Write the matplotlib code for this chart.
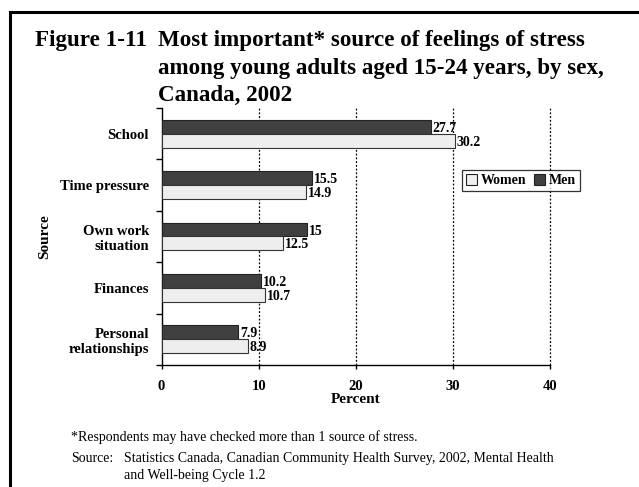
import matplotlib
matplotlib.use("Agg")
import matplotlib.pyplot as plt
from matplotlib.patches import Patch
from matplotlib.lines import Line2D
import numpy as np

categories = ["School", "Time pressure", "Own work\nsituation", "Finances", "Personal\nrelationships"]
men = [27.7, 15.5, 15, 10.2, 7.9]
women = [30.2, 14.9, 12.5, 10.7, 8.9]
men_labels = ["27.7", "15.5", "15", "10.2", "7.9"]
women_labels = ["30.2", "14.9", "12.5", "10.7", "8.9"]
xticks = [0, 10, 20, 30, 40]

plt.rcParams['font.family'] = ['Liberation Serif', 'DejaVu Serif']

W, H = 639, 487
fig = plt.figure(figsize=(W / 100, H / 100), dpi=100)
fig.patch.set_facecolor("white")

def fx(px):
    return px / W

def fy(py):
    return 1 - py / H

# outer frame (left and top lines)
fig.add_artist(Line2D([fx(10), fx(10)], [0, fy(12)], transform=fig.transFigure, color="black", lw=2.2))
fig.add_artist(Line2D([fx(10), 1], [fy(12), fy(12)], transform=fig.transFigure, color="black", lw=2.2))

ax = fig.add_axes([fx(161.5), fy(365), fx(550) - fx(161.5), fy(108) - fy(365)])

y = np.arange(len(categories))
h = 0.27
men_color = "#404040"
women_color = "#eeeeee"
ax.barh(y - h/2, men, height=h, color=men_color, edgecolor="#222222", lw=0.8, zorder=3)
ax.barh(y + h/2, women, height=h, color=women_color, edgecolor="#333333", lw=0.8, zorder=3)

for yi, v, s in zip(y, men, men_labels):
    ax.text(v + 0.2, yi - h/2 + 0.03, s, va="center", ha="left", fontsize=10, fontweight="bold", zorder=4)
for yi, v, s in zip(y, women, women_labels):
    ax.text(v + 0.2, yi + h/2 + 0.03, s, va="center", ha="left", fontsize=10, fontweight="bold", zorder=4)

ax.set_xlim(0, 40)
ax.set_ylim(len(categories) - 0.5, -0.5)
ax.set_xticks(xticks)
ax.set_xticklabels([str(t) for t in xticks], fontsize=10.5, fontweight="bold")
ax.set_yticks(y)
ax.set_yticklabels(categories, fontsize=10.5, fontweight="bold")
ax.tick_params(axis="y", which="major", length=0, pad=9)
ax.set_yticks(np.arange(-0.5, len(categories), 1.0), minor=True)
ax.tick_params(axis="y", which="minor", length=4, direction="out", width=1)
ax.tick_params(axis="x", which="major", length=3, direction="out", width=1, pad=8)

for t in xticks[1:]:
    ax.axvline(t, color="black", lw=0.9, ls=(0, (1.5, 1.5)), zorder=1, clip_on=False)

for side in ["top", "right"]:
    ax.spines[side].set_visible(False)
ax.spines["left"].set_linewidth(1)
ax.spines["bottom"].set_linewidth(1)

ax.set_xlabel("Percent", fontsize=11, fontweight="bold", labelpad=0)
ax.set_ylabel("Source", fontsize=11, fontweight="bold", labelpad=6)

handles = [Patch(facecolor=women_color, edgecolor="#222222", lw=0.8, label="Women"),
           Patch(facecolor=men_color, edgecolor="#222222", lw=0.8, label="Men")]
leg = ax.legend(handles=handles, loc="center", bbox_to_anchor=(fx(521), fy(180.5)),
                bbox_transform=fig.transFigure, ncol=2, frameon=True, fancybox=False,
                edgecolor="black", prop={"weight": "bold", "size": 10},
                handlelength=0.8, handleheight=0.8, handletextpad=0.3, columnspacing=0.5,
                borderpad=0.3, borderaxespad=0)
leg.get_frame().set_linewidth(0.9)

# title
tfs = 16.6
fig.text(fx(35), fy(46), "Figure 1-11", fontsize=tfs, fontweight="bold", va="baseline", ha="left")
fig.text(fx(158), fy(46), "Most important* source of feelings of stress", fontsize=tfs, fontweight="bold", va="baseline", ha="left")
fig.text(fx(158), fy(74), "among young adults aged 15-24 years, by sex,", fontsize=tfs, fontweight="bold", va="baseline", ha="left")
fig.text(fx(158), fy(101), "Canada, 2002", fontsize=tfs, fontweight="bold", va="baseline", ha="left")

# footnotes
ffs = 10
fig.text(fx(71), fy(441), "*Respondents may have checked more than 1 source of stress.", fontsize=ffs, va="baseline", ha="left")
fig.text(fx(71), fy(462), "Source:", fontsize=ffs, va="baseline", ha="left")
fig.text(fx(124), fy(462), "Statistics Canada, Canadian Community Health Survey, 2002, Mental Health", fontsize=ffs, va="baseline", ha="left")
fig.text(fx(124), fy(479), "and Well-being Cycle 1.2", fontsize=ffs, va="baseline", ha="left")

fig.savefig("out.png", dpi=100, facecolor="white")
